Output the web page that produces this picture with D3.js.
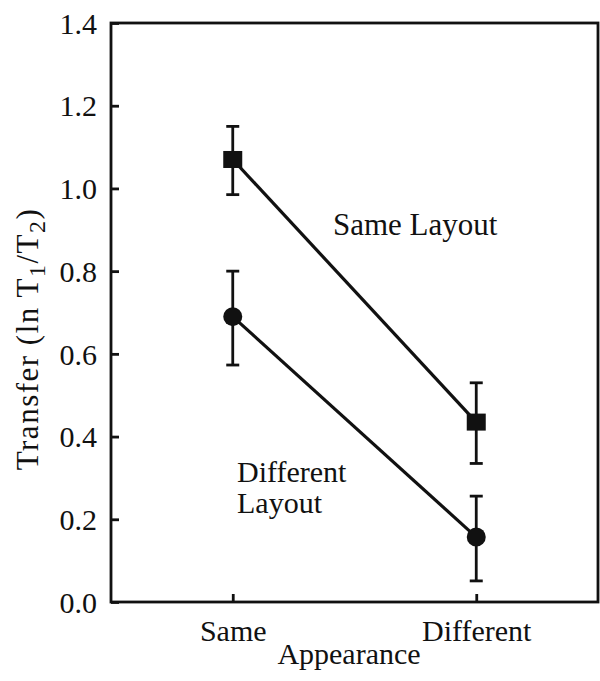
<!DOCTYPE html>
<html><head><meta charset="utf-8">
<script src="https://cdn.jsdelivr.net/npm/d3@7"></script>
<style>body{margin:0;background:#fff}svg{display:block}text{font-family:"Liberation Serif","Times New Roman",serif;fill:#111}</style>
</head><body>
<svg id="c" width="600" height="681"></svg>
<script>
const categories = ["Same", "Different"];
const yTicks = [0.0, 0.2, 0.4, 0.6, 0.8, 1.0, 1.2, 1.4];
const sameLayoutMean = [1.07, 0.435];
const sameLayoutLow = [0.985, 0.335];
const sameLayoutHigh = [1.15, 0.53];
const diffLayoutMean = [0.69, 0.157];
const diffLayoutLow = [0.573, 0.051];
const diffLayoutHigh = [0.80, 0.256];

const svg = d3.select("#c");
const L = 111, R = 598, T = 23, B = 602;
const x = d3.scalePoint().domain(categories).range([L, R]).padding(0.5);
const y = d3.scaleLinear().domain([0, 1.4]).range([B, T]);
const ink = "#111";
const fs = 30;

// frame
svg.append("rect").attr("x", L).attr("y", T).attr("width", R - L).attr("height", B - T)
  .attr("fill", "none").attr("stroke", ink).attr("stroke-width", 2.8);

// y axis
const yAxis = d3.axisLeft(y).tickValues(yTicks).tickFormat(d3.format(".1f")).tickSize(-8).tickPadding(14);
const gy = svg.append("g").attr("transform", `translate(${L},0)`).call(yAxis);
gy.select(".domain").remove();
gy.selectAll(".tick line").attr("stroke", ink).attr("stroke-width", 2.8);
gy.selectAll(".tick text").attr("font-size", fs).attr("font-family", "Liberation Serif").attr("fill", ink).attr("dy", "0.34em");

// x axis
const xAxis = d3.axisBottom(x).tickSize(-8).tickPadding(18);
const gx = svg.append("g").attr("transform", `translate(0,${B})`).call(xAxis);
gx.select(".domain").remove();
gx.selectAll(".tick line").attr("stroke", ink).attr("stroke-width", 2.8);
gx.selectAll(".tick text").attr("font-size", fs).attr("font-family", "Liberation Serif").attr("fill", ink).attr("dy", "0.7em");

// axis titles
svg.append("text").attr("x", 349).attr("y", 664).attr("text-anchor", "middle").attr("font-size", fs).text("Appearance");
const yl = svg.append("text").attr("transform", "translate(38,339) rotate(-90)").attr("text-anchor", "middle")
  .attr("font-size", 31).attr("letter-spacing", 1.5);
yl.append("tspan").text("Transfer (ln T");
yl.append("tspan").attr("font-size", 24).attr("dy", 7).text("1");
yl.append("tspan").attr("dy", -7).text("/T");
yl.append("tspan").attr("font-size", 24).attr("dy", 7).text("2");
yl.append("tspan").attr("dy", -7).text(")");

function series(mean, lo, hi, shape) {
  const g = svg.append("g");
  const line = d3.line().x((d, i) => x(categories[i])).y(d => y(d));
  g.append("path").attr("d", line(mean)).attr("fill", "none").attr("stroke", ink).attr("stroke-width", 3.2);
  categories.forEach((c, i) => {
    const cx = x(c);
    g.append("line").attr("x1", cx).attr("x2", cx).attr("y1", y(lo[i])).attr("y2", y(hi[i])).attr("stroke", ink).attr("stroke-width", 2.8);
    [lo[i], hi[i]].forEach(v => g.append("line").attr("x1", cx - 6.5).attr("x2", cx + 6.5).attr("y1", y(v)).attr("y2", y(v)).attr("stroke", ink).attr("stroke-width", 2.8));
    if (shape === "square") {
      g.append("rect").attr("x", cx - 9.5).attr("y", y(mean[i]) - 8.5).attr("width", 19).attr("height", 17).attr("fill", ink);
    } else {
      g.append("circle").attr("cx", cx).attr("cy", y(mean[i])).attr("r", 9.5).attr("fill", ink);
    }
  });
}
series(sameLayoutMean, sameLayoutLow, sameLayoutHigh, "square");
series(diffLayoutMean, diffLayoutLow, diffLayoutHigh, "circle");

svg.append("text").attr("x", 333).attr("y", 235).attr("font-size", 31).text("Same Layout");
svg.append("text").attr("x", 237).attr("y", 482).attr("font-size", fs).text("Different");
svg.append("text").attr("x", 237).attr("y", 513).attr("font-size", fs).text("Layout");
</script>
</body></html>
